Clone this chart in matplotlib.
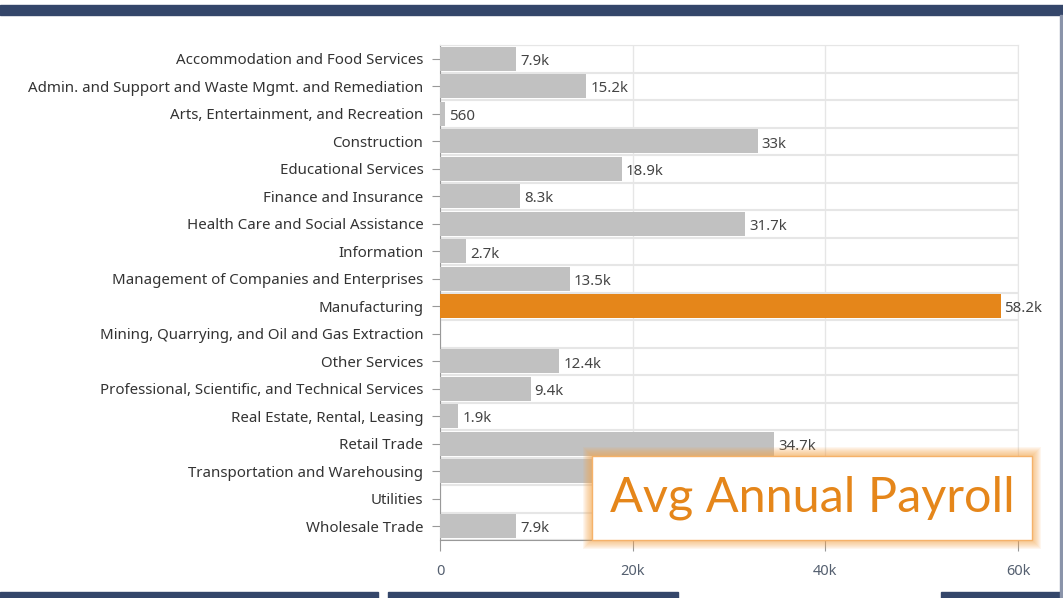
import matplotlib
matplotlib.use("Agg")
import matplotlib.pyplot as plt
from matplotlib.patches import Rectangle
from matplotlib.ticker import FuncFormatter, MultipleLocator

plt.rcParams['font.family'] = ['Noto Sans', 'DejaVu Sans']

# Datos: nómina anual promedio por sector
industries = [
    "Accommodation and Food Services",
    "Admin. and Support and Waste Mgmt. and Remediation",
    "Arts, Entertainment, and Recreation",
    "Construction",
    "Educational Services",
    "Finance and Insurance",
    "Health Care and Social Assistance",
    "Information",
    "Management of Companies and Enterprises",
    "Manufacturing",
    "Mining, Quarrying, and Oil and Gas Extraction",
    "Other Services",
    "Professional, Scientific, and Technical Services",
    "Real Estate, Rental, Leasing",
    "Retail Trade",
    "Transportation and Warehousing",
    "Utilities",
    "Wholesale Trade",
]
payroll = [7900, 15200, 560, 33000, 18900, 8300, 31700, 2700, 13500, 58200,
           0, 12400, 9400, 1900, 34700, 27000, 0, 7900]
highlight = "Manufacturing"
x_ticks = [0, 20000, 40000, 60000]

W, H = 1063, 598
fig = plt.figure(figsize=(W / 100, H / 100), dpi=100)

# Ejes en píxeles de la imagen
left, right, top, bottom = 440, 1018, 45, 540
ax = fig.add_axes([left / W, 1 - bottom / H, (right - left) / W, (bottom - top) / H])

gray = "#c1c1c1"
orange = "#e5861a"
colors = [orange if n == highlight else gray for n in industries]
pos = list(range(len(industries)))
ax.barh(pos, payroll, height=0.88, color=colors, zorder=3)

def fmt_k(v):
    if v >= 1000:
        s = f"{v / 1000:.1f}".rstrip("0").rstrip(".")
        return s + "k"
    return str(int(v))

for p, v in zip(pos, payroll):
    if v > 0:
        ax.text(v + 400, p + 0.1, fmt_k(v), va="center", ha="left",
                fontsize=10.8, color="#444444", zorder=4)

ax.set_xlim(0, 60000)
ax.set_ylim(len(industries) - 0.5, -0.5)
ax.set_yticks(pos)
ax.set_yticklabels(industries, fontsize=10.8, color="#333333")
ax.set_xticks(x_ticks)
ax.xaxis.set_major_formatter(FuncFormatter(lambda v, _: "0" if v == 0 else f"{int(v / 1000)}k"))
ax.yaxis.set_minor_locator(MultipleLocator(1, offset=0.5))
ax.tick_params(axis="y", which="minor", length=0)
ax.tick_params(axis="y", which="major", length=6, color="#999999", pad=6)
ax.tick_params(axis="x", length=8, color="#999999", pad=9, labelsize=10.5, labelcolor="#556070")

ax.grid(axis="x", color="#e6e6e6", linewidth=1, zorder=0)
ax.grid(axis="y", which="minor", color="#e6e6e6", linewidth=1.5, zorder=0)
ax.grid(axis="y", which="major", visible=False)
for s in ["top", "right"]:
    ax.spines[s].set_color("#e6e6e6")
ax.spines["left"].set_color("#999999")
ax.spines["bottom"].set_color("#999999")

# Bandas decorativas de la diapositiva
navy = "#34466a"
fig.patches.append(Rectangle((0, 1 - 15 / H), 1, 10 / H, transform=fig.transFigure,
                             color=navy, zorder=0))
for x0, x1 in [(0, 378), (388, 678), (941, 1063)]:
    fig.patches.append(Rectangle((x0 / W, 0), (x1 - x0) / W, 6 / H,
                                 transform=fig.transFigure, color=navy, zorder=0))
fig.patches.append(Rectangle((1060 / W, 0), 2 / W, 1 - 15 / H, transform=fig.transFigure,
                             color="#8a94aa", zorder=0))

# Caja con brillo naranja
bx0, bx1, by0, by1 = 592, 1032, 456, 540
for k in range(9, 0, -1):
    fig.patches.append(Rectangle(((bx0 - k) / W, 1 - (by1 + k) / H),
                                 (bx1 - bx0 + 2 * k) / W, (by1 - by0 + 2 * k) / H,
                                 transform=fig.transFigure, color="#f7a64a",
                                 alpha=0.09, lw=0, zorder=10))
fig.patches.append(Rectangle((bx0 / W, 1 - by1 / H), (bx1 - bx0) / W, (by1 - by0) / H,
                             transform=fig.transFigure, facecolor="white",
                             edgecolor="#f5b26a", lw=1, zorder=11))
fig.text((bx0 + bx1) / 2 / W, 1 - 498 / H, "Avg Annual Payroll", ha="center", va="center",
         fontsize=35, color=orange, family=["Lato", "DejaVu Sans"], zorder=12)

fig.savefig("out.png", dpi=100)
